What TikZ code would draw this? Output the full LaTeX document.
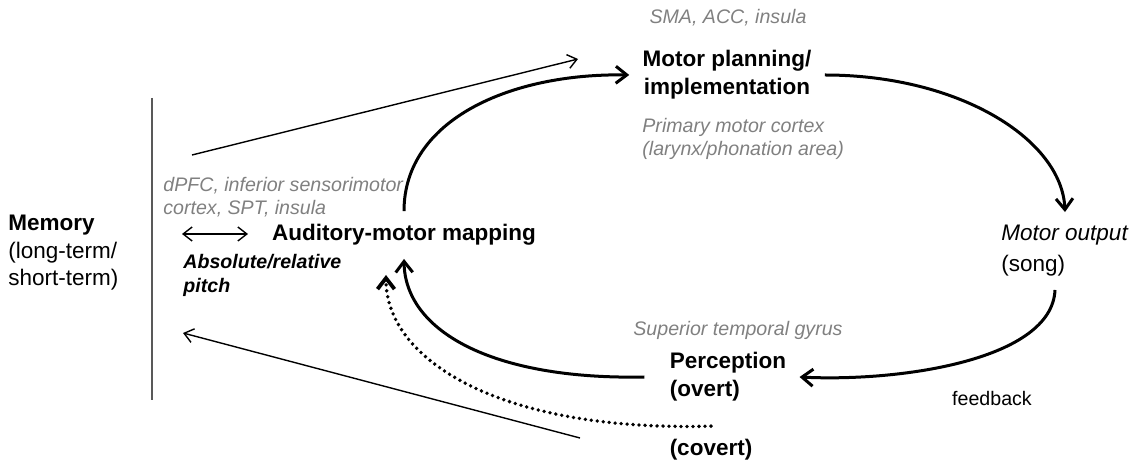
\documentclass[tikz,border=0pt]{standalone}
\usepackage{fontspec}
\setmainfont{Liberation Sans}
\usetikzlibrary{arrows.meta}
\tikzset{>={Straight Barb[length=5.5pt,width=8.5pt]}}
\definecolor{gr5}{gray}{.5}
\definecolor{gr3}{gray}{.35}
\tikzset{
  stage/.style={font=\bfseries\fontsize{11.25}{14}\selectfont, align=center, inner sep=6.5pt},
  area/.style={gr5, font=\itshape\fontsize{9.8}{11.5}\selectfont, align=left, inner sep=0pt},
  loopline/.style={line width=1.5pt, ->},
  link/.style={line width=.7pt, -{Straight Barb[length=4.5pt,width=7pt]}},
}

\begin{document}
\begin{tikzpicture}[x=.5pt, y=-.5pt]
    \useasboundingbox (0,0) rectangle (1140,464);
    % the singing loop
    \node[stage] (plan) at (727,75) {Motor planning/\\implementation};
    \node[stage] (map) at (404,235) {Auditory-motor mapping};
    \node[stage, font=\fontsize{11.25}{15.5}\selectfont, align=left] (out) at (1065,251) {\textit{Motor output}\\(song)};
    \node[stage, align=left] (perc) at (728,377) {Perception\\(overt)};
    \node[stage] (cov) at (711,450) {(covert)};
    \node[stage, font=\fontsize{11.25}{13.75}\selectfont, anchor=west, inner sep=0pt, align=left] (mem) at (8,253) {\textbf{Memory}\\(long-term/\\short-term)};
    % brain areas
    \node[area] (sma) at (728,18) {SMA, ACC, insula};
    \node[area, anchor=west] (m1) at (642,139) {Primary motor cortex\\(larynx/phonation area)};
    \node[area, anchor=west] (dpfc) at (163,197) {dPFC, inferior sensorimotor\\cortex, SPT, insula};
    \node[area, anchor=west] (stg) at (633,330) {Superior temporal gyrus};
    \node[anchor=west, inner sep=0pt, align=left, font=\bfseries\itshape\fontsize{9.8}{12}\selectfont] (pitch) at (183,275) {Absolute/relative\\pitch};
    \node[font=\fontsize{9.8}{12}\selectfont] (fb) at (992,398) {feedback};
    % memory bar and free ends
    \draw[gr3, line width=1pt] (152,98) -- (152,400);
    \coordinate (recall) at (192,155);
    \coordinate (cue) at (578,59);
    \coordinate (keep) at (580,438);
    \coordinate (stored) at (183,333);
    \coordinate (pitchL) at (182,234);
    \coordinate (pitchR) at (248,234);
    \coordinate (covin) at (386,275);
    \draw[loopline] (map.north) .. controls (404,120) and (510,73) .. (plan.west);
    \draw[loopline] (plan.east) .. controls (960,75) and (1062,140) .. (out.north);
    \draw[loopline] ([xshift=-5pt]out.south) .. controls (1052,360) and (900,382) .. (perc.east);
    \draw[loopline] ([xshift=-6pt]perc.west) .. controls (490,380) and (405,330) .. (map.south);
    \draw[line width=1.9pt, dash pattern=on 0pt off 3pt, line cap=round, ->] (cov.north) .. controls (500,432) and (386,360) .. (covin);
    \draw[link] (recall) -- (cue);
    \draw[link] (keep) -- (stored);
    \draw[link, {Straight Barb[length=4.5pt,width=7pt]}-{Straight Barb[length=4.5pt,width=7pt]}] (pitchL) -- (pitchR);
\end{tikzpicture}
\end{document}
